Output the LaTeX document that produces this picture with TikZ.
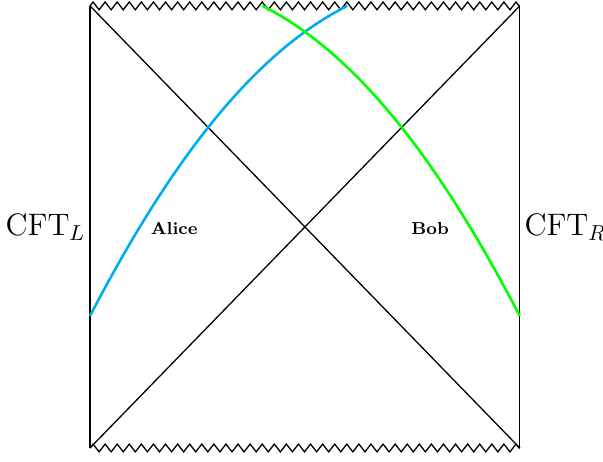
\documentclass[tikz,border=0pt]{standalone}
\usepackage{tikz}
\usetikzlibrary{decorations.pathmorphing, positioning, calc}

\definecolor{alicecol}{RGB}{0,174,239}
\definecolor{bobcol}{RGB}{0,255,0}

\begin{document}
\begin{tikzpicture}[
  edge/.style={draw=black, semithick},
  sing/.style={draw=black, semithick, decorate,
    decoration={zigzag, segment length=5.6pt, amplitude=1.8pt}},
  worldline/.style={very thick},
  cft/.style={font=\Large, inner sep=2pt},
  obs/.style={font=\footnotesize\bfseries}
]
\useasboundingbox (-1.466,-0.228) rectangle (8.355,7.296);

% corners of the diagram
\coordinate (bl) at (0,0);
\coordinate (br) at (7,0);
\coordinate (tl) at (0,7.2);
\coordinate (tr) at (7,7.2);

% boundaries and horizons
\draw[edge] (bl) -- (tl);
\draw[edge] (br) -- (tr);
\draw[sing] (tl) -- (tr);
\draw[sing] (bl) -- (br);
\draw[edge] (tl) -- (br);
\draw[edge] (bl) -- (tr);

% the two boundary theories
\node[cft, left=0pt of {$(bl)!0.5!(tl)$}] (cftL) {CFT$_L$};
\node[cft, right=0pt of {$(br)!0.5!(tr)$}] (cftR) {CFT$_R$};

% observers
\node[obs] (alice) at (1.37,3.58) {Alice};
\node[obs] (bob) at (5.54,3.58) {Bob};

% infalling trajectories
\coordinate (aStart) at (0,2.15);
\coordinate (aEnd) at (4.19,7.2);
\coordinate (bStart) at (2.81,7.2);
\coordinate (bEnd) at (7,2.15);
\draw[worldline, alicecol] (aStart) .. controls (1.25,4.55) and (2.6,6.4) .. (aEnd);
\draw[worldline, bobcol] (bStart) .. controls (4.4,6.4) and (5.75,4.55) .. (bEnd);

\end{tikzpicture}
\end{document}
